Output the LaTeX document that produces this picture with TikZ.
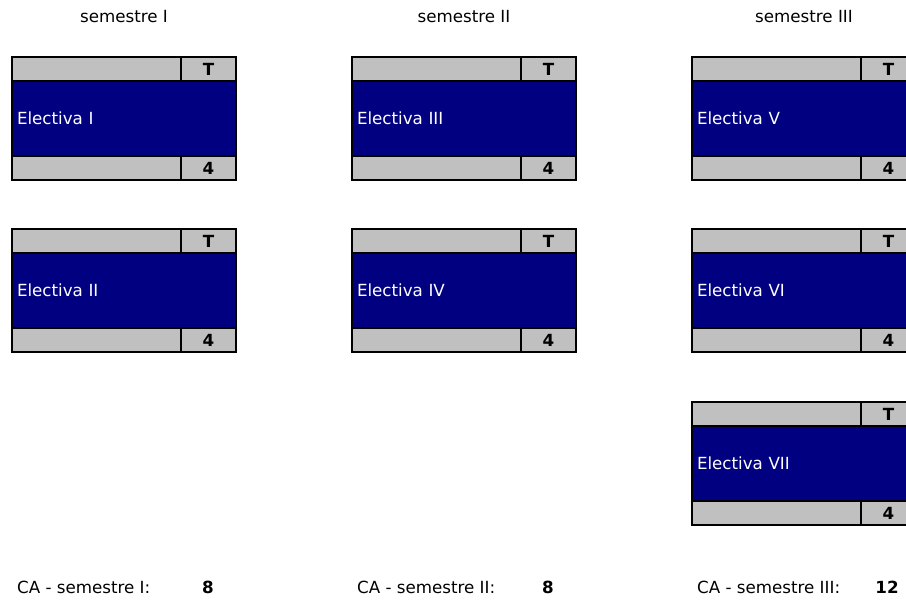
\documentclass[tikz,border=0pt]{standalone}
\usepackage{fontspec}
\setmainfont{DejaVu Sans}
\definecolor{cellgrey}{HTML}{C0C0C0}
\definecolor{navyblue}{HTML}{000080}
\newcommand\electiva[4]{%
  \node[greycell, minimum width=169pt] (#1tl) at (#2,#3) {};
  \node[greycell, minimum width=55pt, font=\txt\bfseries] (#1tr) at (#2+169,#3) {T};
  \node[bluecell] (#1m) at (#2,#3+24) {#4};
  \node[greycell, minimum width=169pt] (#1bl) at (#2,#3+99) {};
  \node[greycell, minimum width=55pt, font=\txt\bfseries] (#1br) at (#2+169,#3+99) {4};
}
\newcommand\txt{\fontsize{16.7}{20}\selectfont}
\begin{document}
\begin{tikzpicture}[x=1pt,y=-1pt,
  greycell/.style={draw=black, line width=1.6pt, fill=cellgrey, minimum height=24pt,
    inner sep=0pt, outer sep=0pt, anchor=north west},
  bluecell/.style={draw=black, line width=1.6pt, fill=navyblue, text=white, font=\txt,
    minimum height=75pt, minimum width=224pt, text width=214pt, align=left,
    inner xsep=5pt, inner ysep=0pt, outer sep=0pt, anchor=north west},
  head/.style={font=\txt, inner sep=0pt},
  foot/.style={font=\txt, inner sep=0pt, anchor=west},
  total/.style={font=\txt\bfseries, inner sep=0pt}]
\useasboundingbox (0,0) rectangle (906,601);
\clip (0,0) rectangle (906,601);
\fill[white] (0,0) rectangle (906,601);
\node[head] (h1) at (124,17) {semestre I};
\node[head] (h2) at (464,17) {semestre II};
\node[head] (h3) at (804,17) {semestre III};
\electiva{a}{12}{57}{Electiva I}
\electiva{b}{12}{229}{Electiva II}
\electiva{c}{352}{57}{Electiva III}
\electiva{d}{352}{229}{Electiva IV}
\electiva{e}{692}{57}{Electiva V}
\electiva{f}{692}{229}{Electiva VI}
\electiva{g}{692}{402}{Electiva VII}
\node[foot] (f1) at (17,587) {CA - semestre I:};
\node[total] (t1) at (208,587) {8};
\node[foot] (f2) at (357,587) {CA - semestre II:};
\node[total] (t2) at (548,587) {8};
\node[foot] (f3) at (697,587) {CA - semestre III:};
\node[total] (t3) at (887,587) {12};
\end{tikzpicture}
\end{document}
